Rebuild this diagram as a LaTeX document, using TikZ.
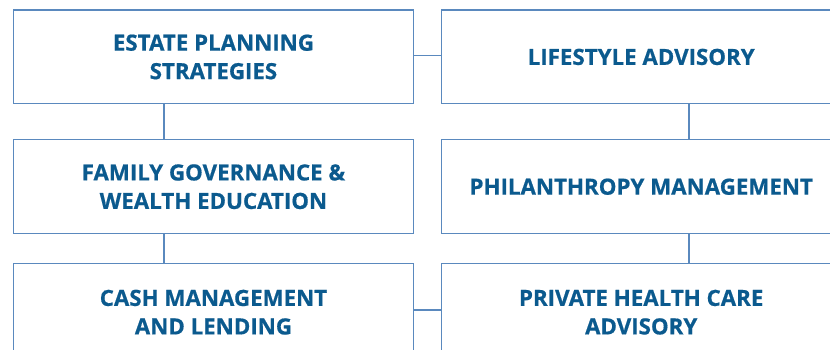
\documentclass[tikz,border=0pt]{standalone}
\usepackage{fontspec}
\setmainfont{Open Sans}[BoldFeatures={FakeBold=0.6}]
\definecolor{boxline}{HTML}{5A89BE}
\definecolor{boxtext}{HTML}{0B5A8E}
\begin{document}
\begin{tikzpicture}[x=1pt,y=-1pt,
  service/.style={draw=boxline,line width=1.4pt,fill=white,
    text=boxtext,font=\bfseries\fontsize{22.3}{28.5}\selectfont,
    align=center,inner sep=0pt,anchor=north west},
  link/.style={draw=boxline,line width=1.4pt}]
\useasboundingbox (0,0) rectangle (830,350);
\begin{scope}
\clip (0,0) rectangle (830,350);
% left column
\node[service,minimum width=400.5pt,minimum height=93.5pt] (estate) at (12.5,9.5)
  {ESTATE PLANNING\\STRATEGIES};
\node[service,minimum width=400.5pt,minimum height=94pt] (family) at (12.5,139)
  {FAMILY GOVERNANCE \&\\WEALTH EDUCATION};
\node[service,minimum width=400.5pt,minimum height=97pt] (cash) at (12.5,263)
  {CASH MANAGEMENT\\AND LENDING};
% right column
\node[service,minimum width=399pt,minimum height=93.5pt] (lifestyle) at (441,9.5)
  {LIFESTYLE ADVISORY};
\node[service,minimum width=399pt,minimum height=94pt] (philanthropy) at (441,139)
  {PHILANTHROPY MANAGEMENT};
\node[service,minimum width=399pt,minimum height=97pt] (health) at (441,263)
  {PRIVATE HEALTH CARE\\ADVISORY};
% connectors
\draw[link] (estate.east |- 0,55.7) -- (lifestyle.west |- 0,55.7);
\draw[link] (cash.east |- 0,310) -- (health.west |- 0,310);
\draw[link] (estate.south -| 164,0) -- (family.north -| 164,0);
\draw[link] (family.south -| 164,0) -- (cash.north -| 164,0);
\draw[link] (lifestyle.south -| 689,0) -- (philanthropy.north -| 689,0);
\draw[link] (philanthropy.south -| 689,0) -- (health.north -| 689,0);
\end{scope}
\end{tikzpicture}
\end{document}
